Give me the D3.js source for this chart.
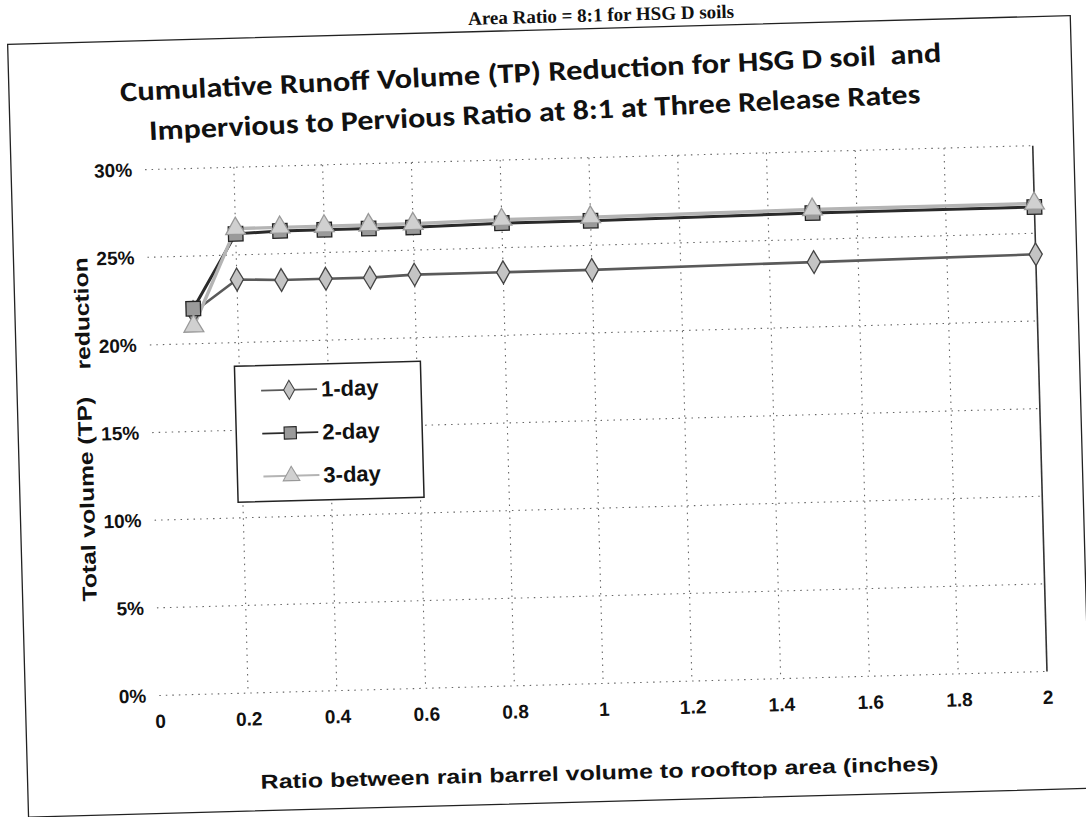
<!DOCTYPE html>
<html><head><meta charset="utf-8">
<script src="https://cdn.jsdelivr.net/npm/d3@7"></script>
<style>body{margin:0;background:#fff}</style>
</head><body>
<svg id="chart" width="1086" height="817"></svg>
<script>
// ---- data ----
const xValues = [0.1, 0.2, 0.3, 0.4, 0.5, 0.6, 0.8, 1.0, 1.5, 2.0];
const oneDay   = [21.8, 23.6, 23.5, 23.5, 23.5, 23.6, 23.6, 23.6, 23.7, 23.8];
const twoDay   = [22.0, 26.2, 26.3, 26.3, 26.3, 26.3, 26.4, 26.4, 26.5, 26.5];
const threeDay = [21.0, 26.5, 26.5, 26.5, 26.5, 26.5, 26.6, 26.6, 26.7, 26.7];
const seriesNames = ["1-day", "2-day", "3-day"];
const yTicks = [0, 5, 10, 15, 20, 25, 30];
const yTickLabels = ["0%", "5%", "10%", "15%", "20%", "25%", "30%"];
const xTicks = [0, 0.2, 0.4, 0.6, 0.8, 1, 1.2, 1.4, 1.6, 1.8, 2];
const xTickLabels = ["0", "0.2", "0.4", "0.6", "0.8", "1", "1.2", "1.4", "1.6", "1.8", "2"];
const topCaption = "Area Ratio = 8:1 for HSG D soils";
const titleLines = ["Cumulative Runoff Volume (TP) Reduction for HSG D soil  and",
                    "Impervious to Pervious Ratio at 8:1 at Three Release Rates"];
const xTitle = "Ratio between rain barrel volume to rooftop area (inches)";
const yTitle = "Total volume (TP)    reduction";

// ---- drawing ----
const svg = d3.select("#chart");
svg.append("rect").attr("width", 1086).attr("height", 817).attr("fill", "#fff");
const g = svg.append("g").attr("transform", "rotate(-1.55,543,420)");

g.append("rect").attr("x", 18).attr("y", 30).attr("width", 1063).attr("height", 773)
  .attr("fill", "none").attr("stroke", "#222").attr("stroke-width", 1.3);

g.append("text").attr("x", 612).attr("y", 23).attr("text-anchor", "middle")
  .attr("font-family", "'Liberation Serif','DejaVu Serif',serif").attr("font-weight", "bold")
  .attr("font-size", 19).attr("fill", "#111").text(topCaption);

const titleFont = "Carlito, Calibri, 'Open Sans', sans-serif";
[[540, 72, 822], [543, 112, 772]].forEach((p, i) => {
  g.append("text").attr("x", p[0]).attr("y", p[1]).attr("text-anchor", "middle")
    .attr("dominant-baseline", "central")
    .attr("transform", `rotate(-1.2,${p[0]},${p[1]})`)
    .style("white-space", "pre")
    .attr("font-family", titleFont).attr("font-weight", "bold").attr("font-size", 28)
    .attr("textLength", p[2]).attr("lengthAdjust", "spacingAndGlyphs")
    .attr("fill", "#111").text(titleLines[i]);
});

const pL = 152, pR = 1040, pT = 159, pB = 685;
const x = d3.scaleLinear().domain([0, 2]).range([pL, pR]);
const y = d3.scaleLinear().domain([0, 30]).range([pB, pT]);

// gridlines
const grid = g.append("g").attr("stroke", "#666").attr("stroke-width", 1.1)
  .attr("stroke-dasharray", "1.5,5");
grid.selectAll("line.h").data(yTicks).join("line").attr("class", "h")
  .attr("x1", pL).attr("x2", pR).attr("y1", d => y(d)).attr("y2", d => y(d));
grid.selectAll("line.v").data(xTicks.filter(d => d > 0 && d < 2)).join("line").attr("class", "v")
  .attr("y1", pT).attr("y2", pB).attr("x1", d => x(d)).attr("x2", d => x(d));
g.append("line").attr("x1", pR).attr("x2", pR).attr("y1", pT).attr("y2", pB)
  .attr("stroke", "#333").attr("stroke-width", 1.6);

const tickFont = "'Liberation Sans', Arial, sans-serif";
const yAxis = g.append("g").attr("transform", `translate(${pL},0)`)
  .call(d3.axisLeft(y).tickValues(yTicks).tickSize(0).tickPadding(13)
    .tickFormat((d, i) => yTickLabels[i]));
const xAxis = g.append("g").attr("transform", `translate(0,${pB})`)
  .call(d3.axisBottom(x).tickValues(xTicks).tickSize(0).tickPadding(19)
    .tickFormat((d, i) => xTickLabels[i]));
[yAxis, xAxis].forEach(a => {
  a.select(".domain").remove();
  a.selectAll("text").attr("font-family", tickFont).attr("font-weight", "bold")
    .attr("font-size", 19).attr("fill", "#111");
});

g.append("text").attr("x", 590).attr("y", 774).attr("text-anchor", "middle")
  .attr("dominant-baseline", "central")
  .attr("font-family", tickFont).attr("font-weight", "bold").attr("font-size", 20)
  .attr("textLength", 678).attr("lengthAdjust", "spacingAndGlyphs")
  .attr("fill", "#111").text(xTitle);
g.append("text").attr("transform", "translate(85,417) rotate(-90)").attr("text-anchor", "middle")
  .attr("dominant-baseline", "central")
  .attr("font-family", tickFont).attr("font-weight", "bold").attr("font-size", 20)
  .attr("textLength", 344).attr("lengthAdjust", "spacingAndGlyphs")
  .style("white-space", "pre")
  .attr("fill", "#111").text(yTitle);

// series
const styles = [
  { data: oneDay,   line: "#5a5a5a", lw: 2.6, sym: d3.symbolDiamond,  size: 150, fill: "#c4c4c4", stroke: "#444" },
  { data: twoDay,   line: "#2a2a2a", lw: 3.0, sym: d3.symbolSquare,   size: 210, fill: "#9a9a9a", stroke: "#222" },
  { data: threeDay, line: "#b4b4b4", lw: 3.4, sym: d3.symbolTriangle, size: 170, fill: "#d0d0d0", stroke: "#999" }
];
const lineGen = d3.line().x((d, i) => x(xValues[i])).y(d => y(d));
styles.forEach(s => {
  g.append("path").datum(s.data).attr("d", lineGen).attr("fill", "none")
    .attr("stroke", s.line).attr("stroke-width", s.lw);
});
styles.forEach(s => {
  g.append("g").selectAll("path").data(s.data).join("path")
    .attr("transform", (d, i) => `translate(${x(xValues[i])},${y(d)})`)
    .attr("d", d3.symbol(s.sym, s.size)).attr("fill", s.fill)
    .attr("stroke", s.stroke).attr("stroke-width", 1.3);
});

// legend
const lg = g.append("g");
lg.append("rect").attr("x", 236).attr("y", 358).attr("width", 186).attr("height", 136)
  .attr("fill", "#fff").attr("stroke", "#222").attr("stroke-width", 1.5);
const rows = [383, 426, 469];
styles.forEach((s, i) => {
  lg.append("line").attr("x1", 262).attr("x2", 318).attr("y1", rows[i]).attr("y2", rows[i])
    .attr("stroke", s.line).attr("stroke-width", s.lw * 0.6);
  lg.append("path").attr("transform", `translate(290,${rows[i]})`)
    .attr("d", d3.symbol(s.sym, s.size * 0.7)).attr("fill", s.fill)
    .attr("stroke", s.stroke).attr("stroke-width", 1.1);
  lg.append("text").attr("x", 322).attr("y", rows[i]).attr("dominant-baseline", "central")
    .attr("font-family", tickFont).attr("font-weight", "bold").attr("font-size", 22)
    .attr("fill", "#111").text(seriesNames[i]);
});
</script>
</body></html>
